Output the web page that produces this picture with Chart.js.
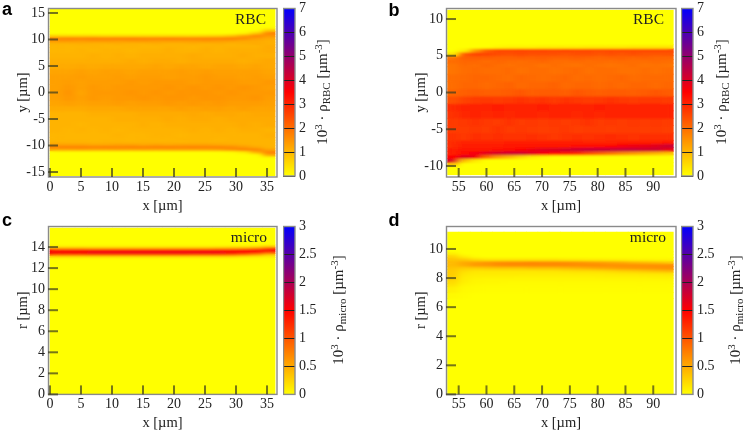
<!DOCTYPE html>
<html><head><meta charset="utf-8">
<style>html,body{margin:0;padding:0;background:#fff;width:746px;height:434px;overflow:hidden}canvas{position:absolute}</style>
<script src="https://cdn.jsdelivr.net/npm/chart.js@4/dist/chart.umd.min.js"></script>
</head><body>
<svg width="0" height="0" style="position:absolute"><filter id="soft" x="-5%" y="-5%" width="110%" height="110%"><feGaussianBlur stdDeviation="3.5 0.9"/></filter></svg>
<canvas id="a" width="373" height="217" style="left:0;top:0"></canvas>
<canvas id="ab" width="90" height="217" style="left:283px;top:0"></canvas>
<canvas id="b" width="373" height="217" style="left:373px;top:0"></canvas>
<canvas id="bb" width="65" height="217" style="left:681px;top:0"></canvas>
<canvas id="c" width="373" height="227" style="left:0;top:207px"></canvas>
<canvas id="cb" width="90" height="227" style="left:283px;top:207px"></canvas>
<canvas id="d" width="373" height="227" style="left:373px;top:207px"></canvas>
<canvas id="db" width="65" height="227" style="left:681px;top:207px"></canvas>
<script>
// ---------- tick labels ----------
const xTicksLeft = [0,5,10,15,20,25,30,35];
const xTicksRight = [55,60,65,70,75,80,85,90];
const yTicksA = [-15,-10,-5,0,5,10,15];
const yTicksB = [-10,-5,0,5,10];
const yTicksC = [0,2,4,6,8,10,12,14];
const yTicksD = [0,2,4,6,8,10];
const barTicksRBC = [0,1,2,3,4,5,6,7];
const barTicksMicro = [0,0.5,1,1.5,2,2.5,3];

// ---------- column centres ----------
const xColsLeft = [1.01,3.03,5.04,7.06,9.08,11.09,13.11,15.13,17.14,19.16,21.18,23.19,25.21,27.23,29.24,31.26,33.28,35.29];
const xColsRight = [54.02,56.05,58.08,60.11,62.14,64.17,66.2,68.23,70.26,72.29,74.32,76.35,78.38,80.41,82.44,84.47,86.5,88.53,90.56,92.59];

// ---------- panel a ----------
const rowEdgesA = [15.7,12.5,12,11.5,11,10.5,10,9.5,9,8.5,7.5,6.5,5.5,4.5,3.5,2.5,1.5,.5,-.5,-1.5,-2.5,-3.5,-4.5,-5.5,-6.5,-7.5,-8.5,-9,-9.5,-10,-10.5,-11,-11.5,-12,-12.5,-15.7];
const rhoA = [
[0,0,0,0,0,0,0,0,0,0,0,0,0,0,0,0,0,0],
[0,0,0,0,0,0,0,0,0,0,0,0,0,0,0,0,0,.1],
[0,0,0,0,0,0,0,0,0,0,0,0,0,0,0,0,.05,.8],
[0,0,0,0,0,0,0,0,0,0,0,0,0,0,.02,.15,.7,1.7],
[.6,.6,.6,.6,.55,.55,.55,.55,.55,.55,.55,.55,.6,.65,.85,1.3,1.7,1.45],
[1.7,1.75,1.7,1.75,1.7,1.75,1.75,1.7,1.7,1.75,1.7,1.7,1.7,1.7,1.75,1.6,1.35,1.2],
[1.4,1.4,1.35,1.4,1.4,1.35,1.4,1.4,1.35,1.35,1.35,1.35,1.4,1.35,1.3,1.2,1.15,1.1],
[1.05,1.05,1.1,1.05,1.05,1.1,1.05,1.05,1.1,1.05,1.05,1.1,1.05,1.1,1.05,1.1,1.15,1.1],
[1,1,1,1.05,1,1,1.05,1,1,1.05,1.05,1,1.05,1.05,1.05,1.05,1.05,1.15],
[1,1,1.05,1,1.05,1.05,1,1.05,1.05,1.1,1.05,1.05,1.1,1.05,1.1,1.1,1.1,1.15],
[1.05,1.05,1.05,1.1,1.05,1.1,1.05,1.1,1.1,1.1,1.1,1.15,1.1,1.1,1.1,1.15,1.1,1.1],
[1.1,1.1,1.1,1.1,1.1,1.1,1.15,1.1,1.15,1.15,1.1,1.15,1.15,1.15,1.15,1.1,1.15,1.2],
[1.15,1.15,1.2,1.15,1.2,1.2,1.2,1.2,1.25,1.2,1.25,1.25,1.2,1.25,1.25,1.2,1.25,1.2],
[1.25,1.25,1.3,1.25,1.3,1.3,1.25,1.3,1.3,1.3,1.35,1.3,1.35,1.3,1.3,1.3,1.3,1.25],
[1.3,1.3,1.35,1.3,1.3,1.35,1.3,1.35,1.35,1.3,1.35,1.35,1.4,1.35,1.35,1.3,1.35,1.3],
[1.3,1.35,1.3,1.35,1.35,1.35,1.4,1.35,1.4,1.4,1.4,1.35,1.4,1.4,1.4,1.35,1.35,1.4],
[1.3,1.4,1.3,1.4,1.35,1.4,1.4,1.4,1.4,1.45,1.4,1.45,1.4,1.45,1.4,1.45,1.4,1.35],
[1.3,1.45,1.25,1.4,1.4,1.4,1.45,1.4,1.45,1.4,1.45,1.45,1.45,1.4,1.45,1.4,1.4,1.4],
[1.3,1.4,1.3,1.4,1.35,1.4,1.4,1.45,1.4,1.45,1.45,1.4,1.45,1.45,1.4,1.4,1.45,1.35],
[1.25,1.3,1.25,1.3,1.3,1.35,1.3,1.35,1.35,1.4,1.35,1.4,1.35,1.4,1.35,1.35,1.35,1.3],
[1.15,1.15,1.15,1.2,1.2,1.2,1.25,1.25,1.25,1.25,1.3,1.25,1.3,1.3,1.25,1.3,1.25,1.25],
[1.05,1.05,1.05,1.1,1.1,1.1,1.1,1.15,1.15,1.15,1.15,1.2,1.15,1.2,1.2,1.15,1.2,1.2],
[1.05,1.05,1.05,1.05,1.05,1.1,1.1,1.1,1.1,1.15,1.1,1.15,1.15,1.1,1.15,1.15,1.15,1.15],
[1.05,1.05,1,1.05,1.05,1.05,1.05,1.1,1.05,1.1,1.1,1.1,1.1,1.1,1.1,1.15,1.1,1.15],
[1.05,1,1.05,1,1.05,1,1.05,1.05,1.05,1.05,1.05,1.1,1.05,1.1,1.05,1.1,1.1,1.05],
[1,1,1,1,1,1.05,1,1,1.05,1.05,1,1.05,1.05,1.05,1.05,1.05,1.05,1.1],
[1,1,1,1,1,1,1,1,1,1,1.05,1.05,1.05,1,1.05,1.05,1.05,1.05],
[1.05,1.05,1.05,1,1.05,1.05,1,1.05,1.05,1.05,1,1.05,1.05,1.05,1.05,1.05,1.05,1.05],
[1.25,1.25,1.25,1.2,1.2,1.25,1.25,1.2,1.25,1.2,1.25,1.25,1.25,1.2,1.15,1.1,1.05,1.05],
[1.7,1.75,1.75,1.7,1.75,1.7,1.75,1.7,1.75,1.75,1.7,1.75,1.7,1.7,1.6,1.4,1.2,1.05],
[1.15,1.15,1.2,1.15,1.15,1.2,1.15,1.2,1.15,1.2,1.2,1.2,1.2,1.25,1.45,1.7,1.7,1.3],
[0,0,0,0,0,0,0,0,0,0,0,0,0,.02,.05,.25,1,1.7],
[0,0,0,0,0,0,0,0,0,0,0,0,0,0,0,0,.05,1.2],
[0,0,0,0,0,0,0,0,0,0,0,0,0,0,0,0,0,.05],
[0,0,0,0,0,0,0,0,0,0,0,0,0,0,0,0,0,0]
];

// ---------- panel b ----------
const rowEdgesB = [11.2,6.5,6,5.5,5,4.5,4,3.5,2.5,1.5,.5,-.5,-1.5,-2.5,-3.5,-4.5,-5.5,-6.5,-7,-7.5,-8,-8.5,-9,-9.5,-10,-11.2];
const rhoB = [
[0,0,0,0,0,0,0,0,0,0,0,0,0,0,0,0,0,0,0,0],
[0,0,0,0,.1,.15,.15,.15,.2,.2,.2,.2,.25,.25,.25,.25,.3,.3,.3,.3],
[0,.25,1.4,2.2,2.5,2.5,2.55,2.5,2.55,2.5,2.55,2.5,2.5,2.45,2.5,2.5,2.5,2.5,2.5,2.5],
[.35,2.3,2.6,2.55,2.45,2.4,2.45,2.4,2.4,2.4,2.35,2.4,2.4,2.35,2.4,2.35,2.4,2.35,2.3,2.35],
[1.9,2.2,2.2,2.2,2.15,2.15,2.2,2.15,2.2,2.15,2.15,2.2,2.15,2.1,2.15,2.15,2.1,2.15,2.1,2.1],
[2,2.1,2.1,2,2.1,2.05,2,2.05,2.1,2,2,2.05,2,2.05,2,2.05,2,2,2.05,2],
[1.9,2.05,2,2.1,2,1.95,2,2,1.9,2,1.95,1.9,2,1.95,1.9,1.95,2,1.9,1.95,1.9],
[1.9,2,2.05,2,2,2.05,1.95,2,2,1.95,2,2.05,1.95,2,2,1.95,1.95,2,1.95,2],
[2,2.05,2.1,2.1,2.05,2,2.1,2.05,2,2.05,2.1,2,2.05,2,2.05,2.1,2,2.05,2.05,2.05],
[2,2.1,2.1,2.05,2.1,2.15,2.05,2.1,2.1,2.15,2.05,2.1,2.1,2.05,2.1,2.05,2.1,2.1,2.05,2.1],
[2.1,2.2,2.25,2.2,2.2,2.25,2.3,2.2,2.25,2.25,2.2,2.3,2.25,2.2,2.25,2.25,2.2,2.25,2.3,2.25],
[2.4,2.6,2.7,2.75,2.7,2.75,2.8,2.75,2.8,2.7,2.8,2.75,2.7,2.75,2.8,2.75,2.7,2.75,2.75,2.7],
[2.9,3,3.05,3,3.1,3.05,3,3.05,3.1,3,3.05,3,3.05,3.1,3,3.05,3,3.05,3.05,3],
[2.8,2.95,3,2.95,3,2.95,3,3,2.95,3,3.05,2.95,3,2.95,3,3.05,3,3.05,3,3],
[2.7,2.75,2.8,2.75,2.7,2.8,2.7,2.75,2.7,2.75,2.7,2.75,2.8,2.7,2.75,2.7,2.75,2.7,2.75,2.7],
[2.7,2.7,2.75,2.7,2.8,2.7,2.75,2.7,2.65,2.7,2.75,2.65,2.7,2.7,2.65,2.7,2.7,2.65,2.7,2.65],
[2.8,2.75,2.85,2.8,2.85,2.8,2.8,2.85,2.8,2.75,2.8,2.85,2.8,2.85,2.9,2.85,2.8,2.85,2.85,2.85],
[2.9,3,3,3,3,3.1,3.1,3.1,3.1,3.1,3.1,3.1,3,3,3,3.1,3.1,3.1,3.1,3.2],
[2.9,3.1,3.1,3.1,3.1,3.2,3.2,3.2,3.2,3.2,3.2,3.3,3.3,3.4,3.5,3.6,3.7,3.8,3.9,4.2],
[3.1,3.2,3.2,3.2,3.3,3.4,3.5,3.7,3.9,4,4.1,4.2,4.3,4.3,4.3,4.3,4.3,4.2,4.2,3.8],
[3.1,3.4,3.6,3.9,4.1,4.2,4.2,3.9,3.6,3.4,3.2,2.9,2.5,2.2,1.9,1.6,1.4,1.2,1,.8],
[3.5,4,3.7,2,1.3,.9,.5,.2,.1,0,0,0,0,0,0,0,0,0,0,0],
[4,.9,.3,0,0,0,0,0,0,0,0,0,0,0,0,0,0,0,0,0],
[.8,0,0,0,0,0,0,0,0,0,0,0,0,0,0,0,0,0,0,0],
[0,0,0,0,0,0,0,0,0,0,0,0,0,0,0,0,0,0,0,0]
];

// ---------- panel c ----------
const rowEdgesC = [15.8,14.2,14,13.8,13.6,13.4,13.2,13,12.8,0];
const rhoC = [
[0,0,0,0,0,0,0,0,0,0,0,0,0,0,0,0,0,0],
[.08,.08,.08,.08,.08,.08,.08,.08,.08,.08,.08,.08,.08,.08,.1,.1,.15,.3],
[.6,.6,.6,.55,.55,.55,.55,.55,.55,.55,.55,.55,.55,.6,.6,.65,.8,1.1],
[1.45,1.45,1.45,1.45,1.45,1.45,1.45,1.45,1.45,1.45,1.45,1.45,1.45,1.45,1.45,1.5,1.5,1.5],
[1.55,1.55,1.55,1.6,1.6,1.6,1.6,1.6,1.6,1.6,1.6,1.6,1.6,1.6,1.55,1.45,1.3,1],
[1,1,1,1.05,1.05,1.05,1.05,1.05,1.05,1.05,1.05,1,1,1,.95,.8,.6,.35],
[.2,.2,.2,.2,.2,.2,.2,.2,.2,.2,.2,.2,.2,.2,.2,.15,.12,.1],
[.02,.02,.02,.02,.02,.02,.02,.02,.02,.02,.02,.02,.02,.02,.02,.02,.02,.02],
[0,0,0,0,0,0,0,0,0,0,0,0,0,0,0,0,0,0]
];

// ---------- panel d ----------
const rowEdgesD = [11.16,9.8,9.6,9.4,9.2,9,8.8,8.6,8.4,8.2,8,7.8,7.6,7.4,7,6.6,0];
const rhoD = [
[0,0,0,0,0,0,0,0,0,0,0,0,0,0,0,0,0,0,0,0],
[.1,0,0,0,0,0,0,0,0,0,0,0,0,0,0,0,0,0,0,0],
[.25,.1,.02,0,0,0,0,0,0,0,0,0,0,0,0,0,0,0,0,0],
[.35,.3,.2,.15,.15,.15,.15,.15,.15,.15,.12,.12,.1,.1,.08,.08,.06,.06,.05,.05],
[.4,.5,.55,.6,.65,.66,.66,.68,.66,.66,.64,.62,.58,.55,.52,.48,.42,.38,.35,.3],
[.4,.5,.6,.62,.68,.7,.7,.7,.7,.7,.7,.68,.68,.68,.66,.66,.66,.66,.66,.66],
[.35,.3,.3,.33,.35,.35,.35,.38,.38,.38,.42,.45,.48,.52,.55,.58,.6,.62,.64,.66],
[.3,.2,.15,.15,.15,.15,.15,.15,.16,.16,.18,.2,.2,.22,.25,.28,.3,.34,.38,.42],
[.3,.15,.12,.12,.12,.12,.12,.11,.11,.11,.11,.12,.12,.12,.13,.14,.14,.15,.15,.16],
[.28,.12,.08,.08,.08,.08,.07,.07,.07,.07,.07,.07,.07,.08,.08,.08,.08,.08,.09,.09],
[.25,.1,.06,.05,.05,.05,.05,.05,.05,.05,.05,.05,.05,.05,.05,.05,.05,.05,.05,.05],
[.2,.08,.05,.04,.04,.03,.03,.03,.03,.03,.03,.03,.03,.03,.03,.03,.03,.03,.03,.03],
[.15,.05,.03,.02,.02,.02,.02,.02,.02,.02,.02,.02,.02,.02,.02,.02,.02,.02,.02,.02],
[.08,.03,.02,.01,.01,.01,.01,.01,.01,.01,.01,.01,.01,.01,.01,.01,.01,.01,.01,.01],
[.03,.01,0,0,0,0,0,0,0,0,0,0,0,0,0,0,0,0,0,0],
[0,0,0,0,0,0,0,0,0,0,0,0,0,0,0,0,0,0,0,0]
];

// ---------- styling & helpers ----------
const SERIF = '"Liberation Serif", serif';
const FRAME = '#8a8a8a', TICK = '#3c3c20', INK = '#222';
function heatColor(v, vmax){
  const t = Math.min(1, Math.max(0, v / vmax));
  if (t <= .5) return `rgb(255,${Math.round(255*(1-t*2))},0)`;
  const u = (t-.5)*2;
  return `rgb(${Math.round(255*(1-u))},0,${Math.round(255*u)})`;
}
const framePlugin = {id:'frame', afterDraw(ch){
  const a = ch.chartArea, c = ch.ctx;
  c.save(); c.strokeStyle = FRAME; c.lineWidth = 1.4;
  c.strokeRect(a.left+.5, a.top+.5, a.right-a.left-.5, a.bottom-a.top-.5);
  c.restore();
}};
function softenPlugin(o){
  return {id:'soften', afterDatasetsDraw(ch){
    const c = ch.ctx, xs = ch.scales.x, ys = ch.scales.y;
    const half = (o.cols[1]-o.cols[0])/2;
    const l = Math.round(xs.getPixelForValue(o.cols[0]-half));
    const r = Math.round(xs.getPixelForValue(o.cols[o.cols.length-1]+half));
    const t = Math.round(ys.getPixelForValue(o.edges[0]));
    const b = Math.round(ys.getPixelForValue(o.edges[o.edges.length-1]));
    c.save();
    c.beginPath(); c.rect(l,t,r-l,b-t); c.clip();
    c.filter = 'url(#soft)';
    c.drawImage(ch.canvas, l,t,r-l,b-t, l,t,r-l,b-t);
    c.restore();
  }};
}
function labelPlugin(letter, lx, ly, tag, tx, ty){
  return {id:'labels', afterDraw(ch){
    const c = ch.ctx, a = ch.chartArea, xs = ch.scales.x, ys = ch.scales.y;
    c.save();
    c.filter = 'none'; c.globalAlpha = .7; c.fillStyle = TICK;
    xs.ticks.forEach(t=>{ c.fillRect(xs.getPixelForValue(t.value)-1, a.bottom-9, 2, 9); });
    ys.ticks.forEach(t=>{ c.fillRect(a.left, ys.getPixelForValue(t.value)-1, 10, 2); });
    c.globalAlpha = 1;
    c.fillStyle = '#000'; c.font = 'bold 18px "Liberation Sans", sans-serif'; c.textAlign='left'; c.textBaseline='alphabetic';
    c.fillText(letter, lx, ly);
    c.fillStyle = INK; c.font = '15.5px '+SERIF; c.textAlign='right';
    c.fillText(tag, tx, ty);
    c.restore();
  }};
}
function titlePlugin(sub, cx, cy){
  return {id:'barTitle', afterDraw(ch){
    const parts = [['10',0,15],['3',-5,11],[' \u00B7 \u03C1',0,15],[sub,3,11],[' [\u00B5m',0,15],['-3',-5,11],[']',0,15]];
    const c = ch.ctx; c.save();
    c.translate(cx, cy); c.rotate(-Math.PI/2);
    c.fillStyle = INK; c.textAlign='left'; c.textBaseline='alphabetic';
    let w = 0;
    parts.forEach(p=>{c.font = p[2]+'px '+SERIF; w += c.measureText(p[0]).width;});
    let x = -w/2;
    parts.forEach(p=>{c.font = p[2]+'px '+SERIF; c.fillText(p[0], x, 5+p[1]); x += c.measureText(p[0]).width;});
    c.restore();
  }};
}
function heatmap(id, o){
  const datasets = o.rho.map((row, r)=>({
    data: o.cols.map((x,i)=>({x, y:[o.edges[r+1], o.edges[r]]})),
    backgroundColor: row.map(v=>heatColor(v, o.vmax)),
    borderWidth: 0, grouped:false, barPercentage:1, categoryPercentage:1
  }));
  const tickFont = {family:'"Liberation Serif"', size:14};
  const titleFont = {family:'"Liberation Serif"', size:14.5};
  new Chart(document.getElementById(id), {
    type:'bar', data:{datasets},
    options:{
      responsive:false, animation:false, events:[],
      layout:{padding:{left:0,top:o.top,right:o.canvasW-o.right,bottom:0}},
      plugins:{legend:{display:false}, tooltip:{enabled:false}},
      scales:{
        x:{type:'linear', offset:false, min:o.xMin, max:o.xMax, position:'bottom',
           afterBuildTicks:a=>{a.ticks=o.xTicks.map(value=>({value}));},
           afterFit:s=>{s.height=o.xAxisH; s.paddingLeft=0; s.paddingRight=0;},
           grid:{display:false, offset:false, drawTicks:false},
           border:{display:false},
           ticks:{autoSkip:false, maxRotation:0, padding:2, color:INK, font:tickFont, callback:v=>String(v)},
           title:{display:true, text:'x [\u00B5m]', color:INK, font:titleFont, padding:{top:0,bottom:2}}},
        y:{type:'linear', min:o.yMin, max:o.yMax, position:'left',
           afterBuildTicks:a=>{a.ticks=o.yTicks.map(value=>({value}));},
           afterFit:s=>{s.width=o.left; s.paddingTop=0; s.paddingBottom=0;},
           grid:{display:false, drawTicks:false},
           border:{display:false},
           ticks:{autoSkip:false, padding:3, color:INK, font:tickFont, callback:v=>String(v)},
           title:{display:true, text:o.yTitle, color:INK, font:titleFont, padding:{top:o.yTitlePad,bottom:0}}}
      }
    },
    plugins:[softenPlugin(o), framePlugin, labelPlugin(o.letter,o.lx,o.ly,o.tag,o.tx,o.ty)]
  });
}
function colorbar(id, o){
  new Chart(document.getElementById(id), {
    type:'bar',
    data:{labels:['c'], datasets:[{
      data:[[0,o.vmax]], borderWidth:0, barPercentage:1, categoryPercentage:1,
      backgroundColor:(ctx)=>{
        const a = ctx.chart.chartArea; if(!a) return '#ff0';
        const g = ctx.chart.ctx.createLinearGradient(0,a.bottom,0,a.top);
        g.addColorStop(0,'#ffff00'); g.addColorStop(.5,'#ff0000'); g.addColorStop(1,'#0000ff');
        return g;
      }
    }]},
    options:{
      responsive:false, animation:false, events:[],
      layout:{padding:{left:0,top:o.top,right:0,bottom:o.bottom}},
      plugins:{legend:{display:false}, tooltip:{enabled:false}},
      scales:{
        x:{display:false},
        y:{type:'linear', min:0, max:o.vmax, position:'right',
           afterBuildTicks:a=>{a.ticks=o.ticks.map(value=>({value}));},
           afterFit:s=>{s.width=o.canvasW-12; s.paddingTop=0; s.paddingBottom=0;},
           grid:{drawOnChartArea:true, drawTicks:false, color:'#222', z:1},
           border:{display:false},
           ticks:{autoSkip:false, padding:4, color:INK, font:{family:'"Liberation Serif"', size:14}, callback:v=>String(v)}}
      }
    },
    plugins:[framePlugin, titlePlugin(o.sub,o.cx,o.cy)]
  });
}

heatmap('a',{rho:rhoA,edges:rowEdgesA,cols:xColsLeft,vmax:7,canvasW:373,left:48,right:277,top:8,xAxisH:40,
  xMin:-.32,xMax:36.61,yMin:-15.94,yMax:15.94,xTicks:xTicksLeft,yTicks:yTicksA,yTitle:'y [\u00B5m]',yTitlePad:14,
  letter:'a',lx:2,ly:15,tag:'RBC',tx:266,ty:24});
colorbar('ab',{vmax:7,ticks:barTicksRBC,canvasW:90,top:8,bottom:41,sub:'RBC',cx:39,cy:92});
heatmap('b',{rho:rhoB,edges:rowEdgesB,cols:xColsRight,vmax:7,canvasW:373,left:73,right:303,top:8,xAxisH:40,
  xMin:52.72,xMax:94.09,yMin:-11.5,yMax:11.5,xTicks:xTicksRight,yTicks:yTicksB,yTitle:'y [\u00B5m]',yTitlePad:39,
  letter:'b',lx:15.5,ly:16,tag:'RBC',tx:291,ty:24});
colorbar('bb',{vmax:7,ticks:barTicksRBC,canvasW:65,top:8,bottom:41,sub:'RBC',cx:40,cy:92});
heatmap('c',{rho:rhoC,edges:rowEdgesC,cols:xColsLeft,vmax:3,canvasW:373,left:48,right:277,top:19,xAxisH:39.6,
  xMin:-.32,xMax:36.61,yMin:0,yMax:16,xTicks:xTicksLeft,yTicks:yTicksC,yTitle:'r [\u00B5m]',yTitlePad:14,
  letter:'c',lx:2,ly:19,tag:'micro',tx:267,ty:35});
colorbar('cb',{vmax:3,ticks:barTicksMicro,canvasW:90,top:19,bottom:39.6,sub:'micro',cx:55,cy:103});
heatmap('d',{rho:rhoD,edges:rowEdgesD,cols:xColsRight,vmax:3,canvasW:373,left:73,right:303,top:19,xAxisH:39.6,
  xMin:52.72,xMax:94.09,yMin:0,yMax:11.58,xTicks:xTicksRight,yTicks:yTicksD,yTitle:'r [\u00B5m]',yTitlePad:39,
  letter:'d',lx:15.5,ly:19,tag:'micro',tx:293,ty:35});
colorbar('db',{vmax:3,ticks:barTicksMicro,canvasW:65,top:19,bottom:39.6,sub:'micro',cx:54,cy:103});
</script>
</body></html>
